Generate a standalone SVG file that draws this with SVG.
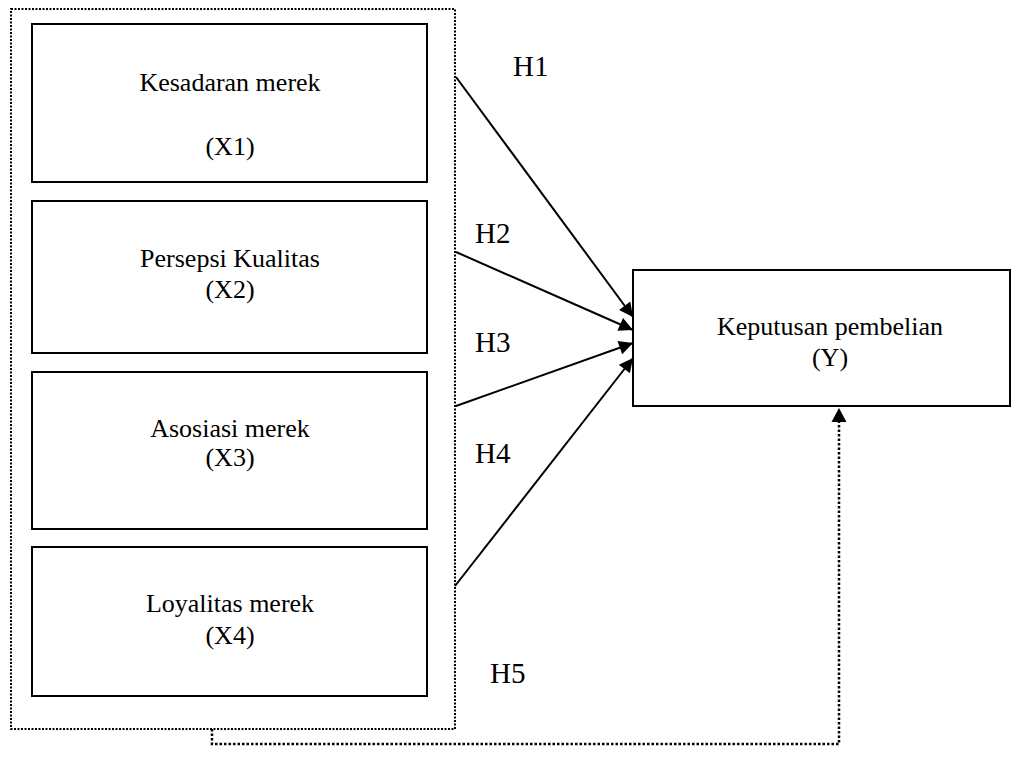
<svg xmlns="http://www.w3.org/2000/svg" width="1018" height="778" viewBox="0 0 1018 778">
<style>
.box{fill:#fff;stroke:#000;stroke-width:2}
.t{font-family:"Liberation Serif","Times New Roman",serif;font-size:26px;fill:#000;text-anchor:middle}
.h{font-family:"Liberation Serif","Times New Roman",serif;font-size:29px;fill:#000}
.ln{stroke:#000;stroke-width:2;fill:none}
.dot{stroke:#000;stroke-width:2;fill:none;stroke-dasharray:2 1.5}
.dot2{stroke:#000;stroke-width:2.5;fill:none;stroke-dasharray:2.5 2}
</style>
<defs>
<marker id="ah" viewBox="0 0 10 10" refX="10" refY="5" markerWidth="8" markerHeight="7" markerUnits="strokeWidth" orient="auto">
<path d="M0,0 L10,5 L0,10 Z" fill="#000"/>
</marker>
</defs>
<g id="group">
<rect x="11" y="9" width="444" height="720" class="dot"/>
</g>
<g id="x1">
<rect x="32" y="24" width="395" height="158" class="box"/>
<text x="230" y="91" class="t">Kesadaran merek</text>
<text x="230" y="155" class="t">(X1)</text>
</g>
<g id="x2">
<rect x="32" y="201" width="395" height="152" class="box"/>
<text x="230" y="267" class="t">Persepsi Kualitas</text>
<text x="230" y="298" class="t">(X2)</text>
</g>
<g id="x3">
<rect x="32" y="372" width="395" height="157" class="box"/>
<text x="230" y="437" class="t">Asosiasi merek</text>
<text x="230" y="466" class="t">(X3)</text>
</g>
<g id="x4">
<rect x="32" y="547" width="395" height="149" class="box"/>
<text x="230" y="612" class="t">Loyalitas merek</text>
<text x="230" y="644" class="t">(X4)</text>
</g>
<g id="y">
<rect x="633" y="270" width="377" height="136" class="box"/>
<text x="830" y="335" class="t">Keputusan pembelian</text>
<text x="830" y="366" class="t">(Y)</text>
</g>
<g id="connectors">
<line x1="456" y1="77" x2="633" y2="317" class="ln" marker-end="url(#ah)"/>
<line x1="456" y1="252" x2="633" y2="330" class="ln" marker-end="url(#ah)"/>
<line x1="456" y1="406" x2="633" y2="343" class="ln" marker-end="url(#ah)"/>
<line x1="455" y1="586" x2="633" y2="358" class="ln" marker-end="url(#ah)"/>
<polyline points="212,729 212,744 839,744 839,422" class="dot2"/>
<path d="M839,408 L846.5,422 L831.5,422 Z" fill="#000"/>
</g>
<g id="labels">
<text x="513" y="76" class="h">H1</text>
<text x="475" y="243" class="h">H2</text>
<text x="475" y="352" class="h">H3</text>
<text x="475" y="463" class="h">H4</text>
<text x="490" y="683" class="h">H5</text>
</g>
</svg>
